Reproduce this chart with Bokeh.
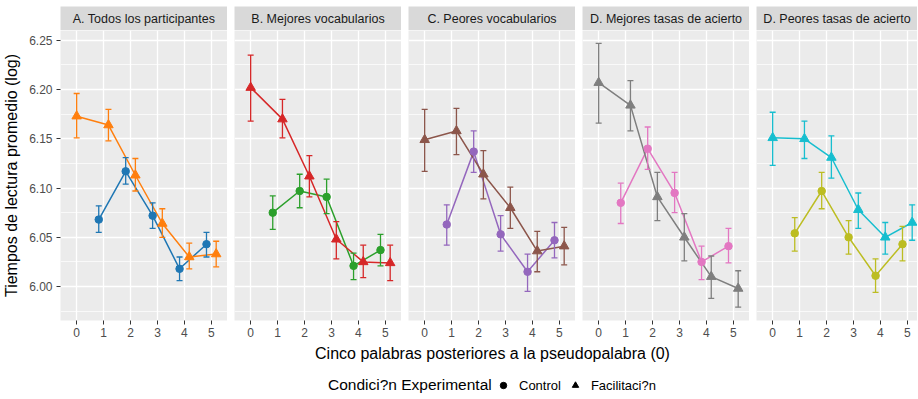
from bokeh.plotting import figure
from bokeh.layouts import row, column
from bokeh.models import (Range1d, FixedTicker, PrintfTickFormatter, ColumnDataSource,
                          Whisker, TeeHead, Legend, LegendItem)
from bokeh.core.properties import value
from bokeh.embed import file_html
from bokeh.resources import INLINE

FONT = "Liberation Sans"

# ---------------- data ----------------
panel_titles = ["A. Todos los participantes", "B. Mejores vocabularios",
                "C. Peores vocabularios", "D. Mejores tasas de acierto",
                "D. Peores tasas de acierto"]
fac_positions = [0, 1, 2, 3, 4, 5]
ctrl_positions = [1, 2, 3, 4, 5]
y_ticks = [6.00, 6.05, 6.10, 6.15, 6.20, 6.25]

a_fac = [6.173, 6.164, 6.113, 6.064, 6.030, 6.033]
a_fac_hi = [6.196, 6.180, 6.130, 6.079, 6.044, 6.046]
a_fac_lo = [6.151, 6.148, 6.097, 6.050, 6.018, 6.020]
a_ctrl = [6.068, 6.117, 6.072, 6.018, 6.043]
a_ctrl_hi = [6.082, 6.131, 6.085, 6.030, 6.055]
a_ctrl_lo = [6.055, 6.104, 6.059, 6.006, 6.030]

b_fac = [6.202, 6.170, 6.112, 6.048, 6.025, 6.024]
b_fac_hi = [6.235, 6.190, 6.133, 6.066, 6.042, 6.042]
b_fac_lo = [6.168, 6.151, 6.091, 6.028, 6.009, 6.006]
b_ctrl = [6.075, 6.097, 6.091, 6.021, 6.037]
b_ctrl_hi = [6.092, 6.114, 6.109, 6.034, 6.053]
b_ctrl_lo = [6.058, 6.080, 6.074, 6.007, 6.021]

c_fac = [6.149, 6.158, 6.114, 6.080, 6.036, 6.041]
c_fac_hi = [6.180, 6.181, 6.138, 6.101, 6.056, 6.060]
c_fac_lo = [6.117, 6.134, 6.089, 6.059, 6.015, 6.022]
c_ctrl = [6.063, 6.137, 6.053, 6.015, 6.047]
c_ctrl_hi = [6.083, 6.158, 6.072, 6.033, 6.065]
c_ctrl_lo = [6.042, 6.116, 6.036, 5.995, 6.029]

d_fac = [6.207, 6.184, 6.091, 6.050, 6.010, 5.998]
d_fac_hi = [6.247, 6.209, 6.116, 6.074, 6.031, 6.016]
d_fac_lo = [6.166, 6.158, 6.067, 6.026, 5.988, 5.979]
d_ctrl = [6.085, 6.140, 6.095, 6.025, 6.041]
d_ctrl_hi = [6.105, 6.162, 6.116, 6.041, 6.059]
d_ctrl_lo = [6.064, 6.119, 6.075, 6.007, 6.024]

e_fac = [6.151, 6.150, 6.131, 6.078, 6.050, 6.065]
e_fac_hi = [6.177, 6.168, 6.153, 6.095, 6.065, 6.083]
e_fac_lo = [6.123, 6.130, 6.110, 6.059, 6.033, 6.047]
e_ctrl = [6.054, 6.097, 6.050, 6.011, 6.043]
e_ctrl_hi = [6.070, 6.116, 6.067, 6.028, 6.061]
e_ctrl_lo = [6.036, 6.079, 6.033, 5.994, 6.026]

ctrl_colors = ["#1F77B4", "#2CA02C", "#9467BD", "#E377C2", "#BCBD22"]
fac_colors = ["#FF7F0E", "#D62728", "#8C564B", "#7F7F7F", "#17BECF"]

panels = [
    (a_fac, a_fac_lo, a_fac_hi, a_ctrl, a_ctrl_lo, a_ctrl_hi),
    (b_fac, b_fac_lo, b_fac_hi, b_ctrl, b_ctrl_lo, b_ctrl_hi),
    (c_fac, c_fac_lo, c_fac_hi, c_ctrl, c_ctrl_lo, c_ctrl_hi),
    (d_fac, d_fac_lo, d_fac_hi, d_ctrl, d_ctrl_lo, d_ctrl_hi),
    (e_fac, e_fac_lo, e_fac_hi, e_ctrl, e_ctrl_lo, e_ctrl_hi),
]

# ---------------- layout parameters ----------------
DODGE = 0.18
LEFT = 60
FRAME_W = 167
LAST_W = 161
GAP = 7
STRIP_TOP = 6
STRIP_H = 24
FRAME_H = 290
AXIS_H = 22
BOTTOM_H = 56
PX_PER_UNIT = FRAME_W / 6.2

y_range = Range1d(5.9655, 6.260)
y_ticker = FixedTicker(ticks=y_ticks,
                       minor_ticks=[5.975, 6.025, 6.075, 6.125, 6.175, 6.225])


def make_strip(title, width, left):
    s = figure(width=width, height=STRIP_TOP + STRIP_H, x_range=Range1d(0, 1),
               y_range=Range1d(0, 1), toolbar_location=None, output_backend="svg",
               x_axis_location=None, y_axis_location=None,
               min_border_left=left, min_border_right=0, min_border_top=STRIP_TOP,
               min_border_bottom=0)
    s.grid.visible = False
    s.background_fill_color = "#D9D9D9"
    s.border_fill_color = "white"
    s.outline_line_color = None
    s.text(x=[0.5], y=[0.5], text=[title], text_align="center", text_baseline="middle",
           text_font=value(FONT), text_font_size="12.5px", text_color="#1A1A1A")
    return s


cols = []
for i, (title, data) in enumerate(zip(panel_titles, panels)):
    fac, fac_lo, fac_hi, ctrl, ctrl_lo, ctrl_hi = data
    first = i == 0
    last = i == len(panels) - 1
    frame_w = LAST_W if last else FRAME_W
    left = LEFT if first else 0
    x_end = -0.6 + frame_w / PX_PER_UNIT

    p = figure(width=left + frame_w, height=FRAME_H + AXIS_H,
               x_range=Range1d(-0.6, x_end), y_range=y_range,
               toolbar_location=None, output_backend="svg",
               y_axis_location="left" if first else None,
               min_border_left=left, min_border_right=0, min_border_top=0,
               min_border_bottom=AXIS_H)
    p.background_fill_color = "#EBEBEB"
    p.border_fill_color = "white"
    p.outline_line_color = None

    p.xaxis.ticker = FixedTicker(ticks=fac_positions, minor_ticks=[])
    p.xaxis.axis_line_color = None
    p.xaxis.major_tick_line_color = "#333333"
    p.xaxis.major_tick_out = 4
    p.xaxis.major_tick_in = 0
    p.xaxis.major_label_standoff = 3
    p.xaxis.major_label_text_font = FONT
    p.xaxis.major_label_text_font_size = "12px"
    p.xaxis.major_label_text_color = "#4D4D4D"

    p.xgrid.ticker = FixedTicker(ticks=fac_positions, minor_ticks=[])
    p.xgrid.grid_line_color = "white"
    p.xgrid.grid_line_width = 1.3
    p.ygrid.ticker = y_ticker
    p.ygrid.grid_line_color = "white"
    p.ygrid.grid_line_width = 1.3
    p.ygrid.minor_grid_line_color = "white"
    p.ygrid.minor_grid_line_width = 0.7

    if first:
        p.yaxis.ticker = y_ticker
        p.yaxis.formatter = PrintfTickFormatter(format="%.2f")
        p.yaxis.axis_line_color = None
        p.yaxis.major_tick_line_color = "#333333"
        p.yaxis.major_tick_out = 4
        p.yaxis.major_tick_in = 0
        p.yaxis.minor_tick_line_color = None
        p.yaxis.major_label_standoff = 4
        p.yaxis.major_label_text_font = FONT
        p.yaxis.major_label_text_font_size = "12px"
        p.yaxis.major_label_text_color = "#4D4D4D"
        p.yaxis.axis_label = "Tiempos de lectura promedio (log)"
        p.yaxis.axis_label_text_font = FONT
        p.yaxis.axis_label_text_font_size = "16px"
        p.yaxis.axis_label_text_font_style = "normal"
        p.yaxis.axis_label_text_color = "black"
        p.yaxis.axis_label_standoff = 6

    fx = [x if x == 0 else x + DODGE for x in fac_positions]
    cx = [x - DODGE for x in ctrl_positions]
    fsrc = ColumnDataSource(dict(x=fx, y=fac, lo=fac_lo, hi=fac_hi))
    csrc = ColumnDataSource(dict(x=cx, y=ctrl, lo=ctrl_lo, hi=ctrl_hi))

    for src, col in ((csrc, ctrl_colors[i]), (fsrc, fac_colors[i])):
        w = Whisker(source=src, base="x", upper="hi", lower="lo", dimension="height",
                    line_color=col, line_width=1.3, level="glyph",
                    upper_head=TeeHead(size=6, line_color=col, line_width=1.3),
                    lower_head=TeeHead(size=6, line_color=col, line_width=1.3))
        p.add_layout(w)

    p.line("x", "y", source=csrc, line_color=ctrl_colors[i], line_width=1.5)
    p.line("x", "y", source=fsrc, line_color=fac_colors[i], line_width=1.5)
    p.scatter("x", "y", source=csrc, marker="circle", size=7.5,
              fill_color=ctrl_colors[i], line_color=ctrl_colors[i])
    p.scatter("x", "y", source=fsrc, marker="triangle", size=9.5,
              fill_color=fac_colors[i], line_color=fac_colors[i])

    strip = make_strip(title, left + frame_w, left)
    cols.append(column(strip, p, spacing=0))

panel_row = row(*cols, spacing=GAP)

# ---------------- bottom: x title + legend ----------------
total_w = LEFT + FRAME_W * 4 + LAST_W + GAP * 4
B_LEFT = 67
b = figure(width=total_w, height=BOTTOM_H, x_range=Range1d(0, 1), y_range=Range1d(0, 1),
           toolbar_location=None, output_backend="svg",
           x_axis_location=None, y_axis_location=None,
           min_border_left=B_LEFT, min_border_right=0, min_border_top=0,
           min_border_bottom=0,
           title="Cinco palabras posteriores a la pseudopalabra (0)")
b.title.align = "center"
b.title.text_font = FONT
b.title.text_font_size = "16px"
b.title.text_font_style = "normal"
b.title.text_color = "black"
b.title.standoff = 0
b.grid.visible = False
b.outline_line_color = None
b.background_fill_color = "white"

# legend proxies: a single point each, placed outside the visible range
proxy = ColumnDataSource(dict(x=[5.0], y=[5.0]))
r_title = b.scatter("x", "y", source=proxy, marker="circle", size=1,
                    fill_alpha=0, line_alpha=0)
rc = b.scatter("x", "y", source=proxy, marker="circle", size=7, color="black")
rt = b.scatter("x", "y", source=proxy, marker="triangle", size=9.5, color="black")

common = dict(orientation="horizontal", margin=0, padding=0, label_height=20,
              background_fill_alpha=0, border_line_color=None,
              label_text_font=FONT, label_text_color="black")
leg_title = Legend(items=[LegendItem(label=value("Condici?n Experimental"),
                                     renderers=[r_title])],
                   location=(328 - B_LEFT, 3), glyph_width=0, glyph_height=20,
                   label_standoff=0, label_text_font_size="15.5px", **common)
leg_items = Legend(items=[LegendItem(label=value("Control"), renderers=[rc]),
                          LegendItem(label=value("Facilitaci?n"), renderers=[rt])],
                   location=(503 - 8 - B_LEFT, 3), glyph_width=16, glyph_height=16,
                   label_standoff=8, spacing=6, label_text_font_size="13px", **common)
b.add_layout(leg_title, "center")
b.add_layout(leg_items, "center")

layout = column(panel_row, b, spacing=0)

open("out.html", "w").write(file_html(layout, INLINE))
